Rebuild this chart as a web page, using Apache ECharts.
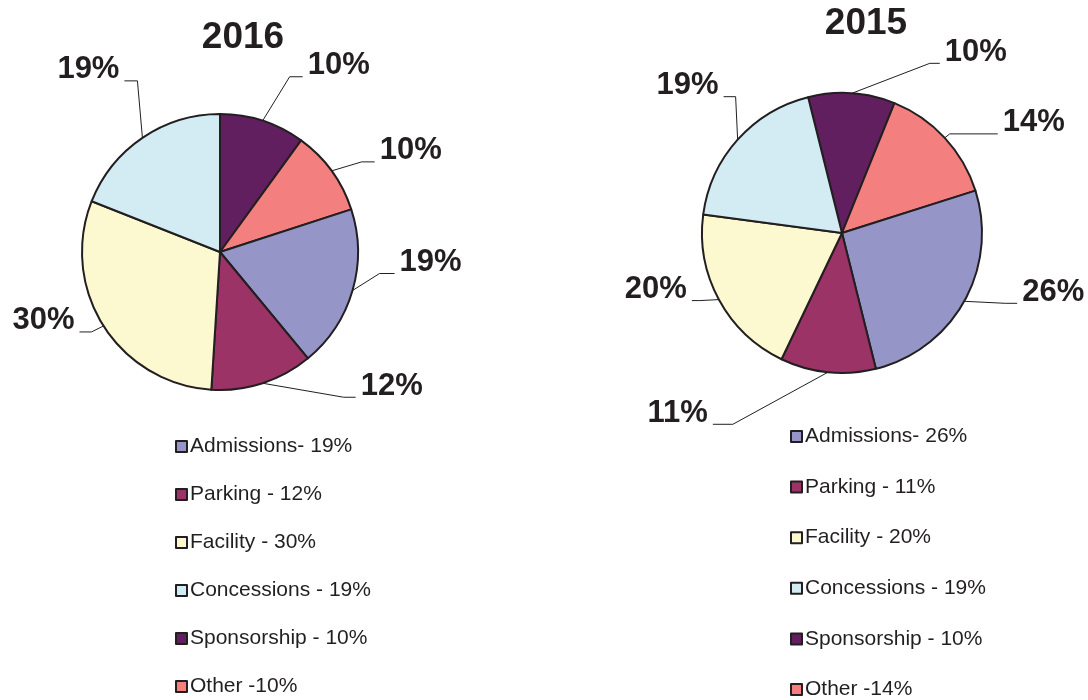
<!DOCTYPE html>
<html>
<head>
<meta charset="utf-8">
<script src="https://cdn.jsdelivr.net/npm/echarts@6/dist/echarts.min.js"></script>
<style>
html,body{margin:0;padding:0;background:#fff;}
#chart{width:1088px;height:700px;}
</style>
</head>
<body>
<div id="chart"></div>
<script>
// Categories in legend order
const categories = ["Admissions", "Parking", "Facility", "Concessions", "Sponsorship", "Other"];
// Values (percent) per year, legend order
const values2016 = [19, 12, 30, 19, 10, 10];
const values2015 = [26, 11, 20, 19, 10, 14];
// Legend labels as printed
const legend2016 = ["Admissions- 19%", "Parking - 12%", "Facility - 30%", "Concessions - 19%", "Sponsorship - 10%", "Other -10%"];
const legend2015 = ["Admissions- 26%", "Parking - 11%", "Facility - 20%", "Concessions - 19%", "Sponsorship - 10%", "Other -14%"];
const titles = ["2016", "2015"];
// Clockwise drawing order starting at the top
const pieOrder = ["Sponsorship", "Other", "Admissions", "Parking", "Facility", "Concessions"];

const colors = {
  Admissions: "#9595c8",
  Parking: "#9b3366",
  Facility: "#fcf9d1",
  Concessions: "#d3ecf3",
  Sponsorship: "#611f60",
  Other: "#f37f7f"
};
const ink = "#231f20";

// Leader-line style per slice: elbow offset from the slice edge [ox, oy], horizontal run length
const guides2016 = {
  Sponsorship: [27, -44, 13], Other: [30, -9, 13], Admissions: [27, -17, 15],
  Parking: [81, 14, 12], Facility: [-12, 6, 12], Concessions: [-5, -57, 13]
};
const guides2015 = {
  Sponsorship: [78, -30, 10], Other: [5, -4, 48], Admissions: [41, 2, 12],
  Parking: [-95, 52, 20], Facility: [-19, 1, 8], Concessions: [-2, -43, 12]
};

function buildData(values) {
  return pieOrder.map(function (name) {
    const i = categories.indexOf(name);
    return { name: name, value: values[i], itemStyle: { color: colors[name] } };
  });
}

function makeLayout(guides) {
  return function (params) {
    const pts = params.labelLinePoints;
    if (!pts || pts.length < 3) return { dy: -11 };
    const g = guides[pieOrder[params.dataIndex]];
    const side = params.align === "right" ? -1 : 1;
    const p0 = pts[0];
    const elbow = [p0[0] + g[0], p0[1] + g[1]];
    const end = [elbow[0] + side * g[2], elbow[1]];
    const oldEnd = pts[pts.length - 1];
    return {
      dx: end[0] - oldEnd[0],
      dy: end[1] - oldEnd[1] - 11,
      labelLinePoints: [p0, elbow, end]
    };
  };
}

function pieSeries(values, guides, center, radius, startAngle) {
  return {
    type: "pie",
    center: center,
    radius: radius,
    startAngle: startAngle,
    clockwise: true,
    avoidLabelOverlap: false,
    animation: false,
    data: buildData(values),
    itemStyle: { borderColor: ink, borderWidth: 2 },
    label: {
      show: true,
      position: "outside",
      alignTo: "none",
      formatter: "{c}%",
      fontFamily: "Liberation Sans, Arial, sans-serif",
      fontWeight: "bold",
      fontSize: 31,
      color: ink,
      distanceToLabelLine: 5
    },
    labelLayout: makeLayout(guides),
    labelLine: {
      show: true,
      length: 10,
      length2: 10,
      smooth: false,
      lineStyle: { color: ink, width: 1 }
    },
    emphasis: { disabled: true }
  };
}

function legendFor(labels, left, top, gap) {
  return {
    orient: "vertical",
    left: left,
    top: top,
    height: 300,
    padding: 0,
    itemGap: gap,
    itemWidth: 11,
    itemHeight: 11,
    icon: "rect",
    selectedMode: false,
    data: categories,
    formatter: function (name) { return labels[categories.indexOf(name)]; },
    itemStyle: { borderColor: ink, borderWidth: 2 },
    textStyle: {
      fontFamily: "Liberation Sans, Arial, sans-serif",
      fontSize: 21,
      lineHeight: 20,
      color: ink,
      padding: [0, 0, 0, -2]
    }
  };
}

const chart = echarts.init(document.getElementById("chart"), null, { renderer: "canvas" });
chart.setOption({
  backgroundColor: "#ffffff",
  animation: false,
  title: [
    { text: titles[0], left: 243, top: 19, textAlign: "center", padding: 0,
      textStyle: { fontFamily: "Liberation Sans, Arial, sans-serif", fontWeight: "bold", fontSize: 37, color: ink } },
    { text: titles[1], left: 866, top: 5, textAlign: "center", padding: 0,
      textStyle: { fontFamily: "Liberation Sans, Arial, sans-serif", fontWeight: "bold", fontSize: 37, color: ink } }
  ],
  legend: [
    legendFor(legend2016, 175, 436, 27),
    legendFor(legend2015, 790, 426, 29.6)
  ],
  series: [
    pieSeries(values2016, guides2016, [220, 252], 138, 90),
    pieSeries(values2015, guides2015, [842, 233], 140, 104)
  ]
});
</script>
</body>
</html>
